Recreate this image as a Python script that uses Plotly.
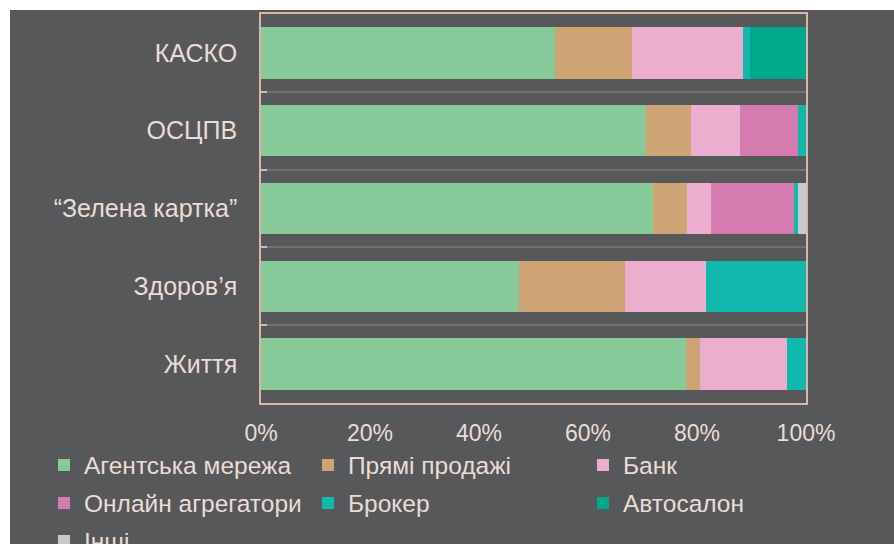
import plotly.graph_objects as go

categories = ["КАСКО", "ОСЦПВ", "\u201cЗелена картка\u201d", "Здоров\u2019я", "Життя"]

series_names = ["Агентська мережа", "Прямі продажі", "Банк",
                "Онлайн агрегатори", "Брокер", "Автосалон", "Інші"]

agent   = [54.0, 70.6, 72.0, 47.3, 78.0]
direct  = [14.0, 8.3, 6.2, 19.5, 2.5]
bank    = [20.4, 8.9, 4.3, 14.9, 16.1]
online  = [0.0, 10.8, 15.3, 0.0, 0.0]
broker  = [1.3, 1.4, 0.7, 18.3, 3.4]
autosal = [10.3, 0.0, 0.0, 0.0, 0.0]
others  = [0.0, 0.0, 1.5, 0.0, 0.0]

series_values = [agent, direct, bank, online, broker, autosal, others]
colors = ["#88c999", "#cfa475", "#ebaecf", "#d67bb0", "#13b8ad", "#00a98a", "#c9c9c9"]

xticks = [0, 20, 40, 60, 80, 100]
xticklabels = ["0%", "20%", "40%", "60%", "80%", "100%"]

TEXT = "#ebdcd6"
FONT = "Liberation Sans, Arial, sans-serif"

W, H = 894, 544
L, R, T, B = 261, 88, 14, 141
pw, ph = W - L - R, H - T - B

def px_x(x):
    return (x - L) / pw

def px_y(y):
    return (H - B - y) / ph

# legend grid: 3 columns, rows
col_x = [44, 308, 583]
row_y = [465, 503, 541]

fig = go.Figure()
legends = {}
for i, (name, vals, col) in enumerate(zip(series_names, series_values, colors)):
    lid = "legend" if i == 0 else f"legend{i + 1}"
    fig.add_trace(go.Bar(
        y=categories, x=vals, name=name, orientation="h",
        marker=dict(color=col, line=dict(width=0)),
        legend=lid, showlegend=True,
    ))
    r, c = divmod(i, 3)
    legends[lid] = dict(orientation="h", xanchor="left", yanchor="middle",
                        x=px_x(col_x[c]), y=px_y(row_y[r]),
                        font=dict(family=FONT, size=24.5, color=TEXT),
                        bgcolor="rgba(0,0,0,0)", borderwidth=0, visible=True)

fig.update_layout(
    width=W, height=H,
    showlegend=True,
    margin=dict(l=L, r=R, t=T, b=B, pad=0, autoexpand=False),
    paper_bgcolor="white",
    plot_bgcolor="#4f5254",
    barmode="stack",
    bargap=0.34,
    font=dict(family=FONT, size=22, color=TEXT),
    shapes=[dict(type="rect", xref="paper", yref="paper",
                 x0=px_x(10), x1=px_x(W + 5), y0=px_y(H + 5), y1=px_y(10),
                 fillcolor="#56585a", line=dict(width=0), layer="below")],
    **legends,
)

fig.update_xaxes(range=[0, 100], tickvals=xticks, ticktext=xticklabels,
                 showgrid=False, zeroline=False,
                 showline=True, mirror=True, linecolor="#d9b6a8", linewidth=1.5,
                 ticks="", ticklabelstandoff=9,
                 tickfont=dict(family=FONT, size=23, color=TEXT))
fig.update_yaxes(autorange="reversed", tickson="boundaries",
                 showgrid=True, gridcolor="#6e7173", gridwidth=1.5,
                 ticks="inside", ticklen=6, tickcolor="#d9b6a8", tickwidth=1.5,
                 showline=True, mirror=True, linecolor="#d9b6a8", linewidth=1.5,
                 ticklabelstandoff=17,
                 tickfont=dict(family=FONT, size=25, color=TEXT))

fig.write_html("out.html", config={"displayModeBar": False},
               post_script="document.body.style.margin='0';document.body.style.overflow='hidden';")
